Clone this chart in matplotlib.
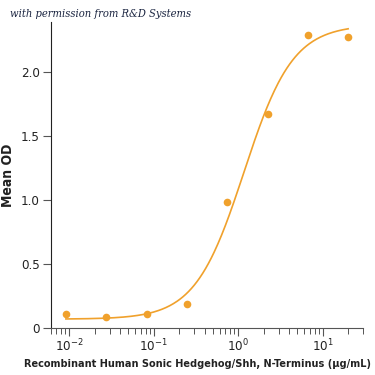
import matplotlib
matplotlib.use("Agg")

import numpy as np
import matplotlib.pyplot as plt
from matplotlib.ticker import LogLocator, NullFormatter

plt.rcParams["font.family"] = ["DejaVu Sans"]
plt.rcParams["font.stretch"] = "condensed"
plt.rcParams["mathtext.default"] = "regular"

# measured points (3-fold dilution series)
conc = [0.0091, 0.027, 0.082, 0.247, 0.74, 2.22, 6.67, 20.0]
mean_od = [0.107, 0.088, 0.107, 0.19, 0.984, 1.67, 2.29, 2.276]

# 4PL fit parameters
fit_bottom = 0.07
fit_top = 2.37
fit_ec50 = 1.17
fit_hill = 1.5

orange = "#F0A12C"

fig = plt.figure(figsize=(3.75, 3.75), dpi=100)
ax = fig.add_axes([0.135, 0.125, 0.833, 0.816])

xs = np.logspace(np.log10(conc[0]), np.log10(conc[-1]), 300)
ys = fit_bottom + (fit_top - fit_bottom) / (1 + (fit_ec50 / xs) ** fit_hill)
ax.plot(xs, ys, color=orange, lw=1.2)
ax.plot(conc, mean_od, "o", color=orange, ms=5.5, mec="none")

ax.set_xscale("log")
ax.set_xlim(0.006, 30)
ax.set_ylim(0, 2.39)
ax.set_yticks([0, 0.5, 1.0, 1.5, 2.0])
ax.set_yticklabels(["0", "0.5", "1.0", "1.5", "2.0"])
ax.xaxis.set_major_locator(LogLocator(base=10, numticks=10))
ax.xaxis.set_minor_locator(LogLocator(base=10, subs=np.arange(2, 10), numticks=10))
ax.xaxis.set_minor_formatter(NullFormatter())

for s in ["top", "right"]:
    ax.spines[s].set_visible(False)
ax.spines["left"].set_color("#222222")
ax.spines["bottom"].set_color("#555555")
ax.tick_params(axis="both", which="major", length=6, width=0.8, color="#555555",
               labelsize=9.5, labelcolor="#222222", pad=2)
ax.tick_params(axis="x", which="major", pad=1)
ax.tick_params(axis="x", which="minor", length=4, width=0.7, color="#555555")

xl = ax.set_xlabel("Recombinant Human Sonic Hedgehog/Shh, N-Terminus (\u03bcg/mL)",
                   fontsize=10, fontweight="bold", color="#222222")
ax.xaxis.set_label_coords(0.469, -0.1)
ax.set_ylabel("Mean OD", fontsize=10, fontweight="bold", color="#222222", labelpad=4)

fig.text(0.027, 0.955, "with permission from R&D Systems", fontsize=8,
         style="italic", family="DejaVu Serif", color="#1a2440")

# shrink the x label until it spans about as wide as in the reference
fig.canvas.draw()
r = fig.canvas.get_renderer()
w = xl.get_window_extent(r).width
xl.set_fontsize(10 * min(1.0, 345 / w))

fig.savefig("out.png", dpi=100)
